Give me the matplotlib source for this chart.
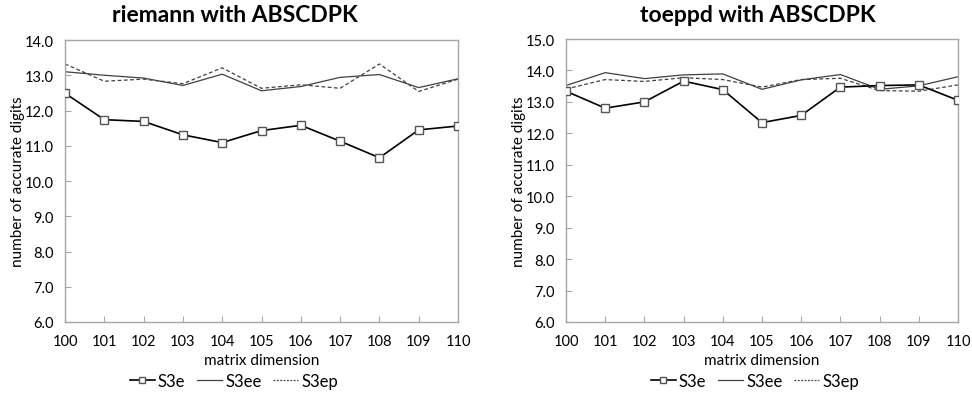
import matplotlib
matplotlib.use("Agg")
import matplotlib.pyplot as plt
from matplotlib.lines import Line2D

plt.rcParams['font.family'] = ['Lato', 'DejaVu Sans']

dims = [100, 101, 102, 103, 104, 105, 106, 107, 108, 109, 110]

riemann_s3e = [12.49, 11.74, 11.69, 11.31, 11.09, 11.43, 11.58, 11.13, 10.66, 11.45, 11.56]
riemann_s3ee = [13.10, 13.00, 12.92, 12.71, 13.03, 12.56, 12.68, 12.94, 13.02, 12.65, 12.90]
riemann_s3ep = [13.32, 12.83, 12.89, 12.76, 13.21, 12.63, 12.73, 12.63, 13.32, 12.54, 12.89]

toeppd_s3e = [13.34, 12.80, 13.00, 13.66, 13.39, 12.34, 12.57, 13.47, 13.52, 13.54, 13.05]
toeppd_s3ee = [13.52, 13.93, 13.74, 13.86, 13.89, 13.40, 13.70, 13.87, 13.40, 13.51, 13.80]
toeppd_s3ep = [13.41, 13.71, 13.65, 13.77, 13.71, 13.47, 13.71, 13.75, 13.36, 13.34, 13.54]

series_names = ["S3e", "S3ee", "S3ep"]
titles = ["riemann with ABSCDPK", "toeppd with ABSCDPK"]
yticks_left = [6.0, 7.0, 8.0, 9.0, 10.0, 11.0, 12.0, 13.0, 14.0]
yticks_right = [6.0, 7.0, 8.0, 9.0, 10.0, 11.0, 12.0, 13.0, 14.0, 15.0]

W, H = 972, 410
fig = plt.figure(figsize=(W / 100, H / 100), dpi=100)

def px(x0, y0, x1, y1):
    return [x0 / W, 1 - y1 / H, (x1 - x0) / W, (y1 - y0) / H]

axes_rects = [px(65, 41, 458, 323), px(566, 40, 958, 323)]
data = [(riemann_s3e, riemann_s3ee, riemann_s3ep), (toeppd_s3e, toeppd_s3ee, toeppd_s3ep)]
yticks_all = [yticks_left, yticks_right]
title_x = [235, 758]
legend_x = [234, 755]

spine_col = '#A6A6A6'
for i in range(2):
    ax = fig.add_axes(axes_rects[i])
    s3e, s3ee, s3ep = data[i]
    ax.plot(dims, s3ee, color='#404040', lw=0.9, zorder=2)
    ax.plot(dims, s3ep, color='#404040', lw=0.9, ls=(0, (3, 2)), zorder=2)
    ax.plot(dims, s3e, color='#000000', lw=1.2, marker='s', ms=6,
            mfc='white', mec='#555555', mew=1.0, zorder=3)
    yt = yticks_all[i]
    ax.set_xlim(dims[0], dims[-1])
    ax.set_ylim(yt[0], yt[-1])
    ax.set_xticks(dims)
    ax.set_yticks(yt)
    ax.set_yticklabels([f"{v:.1f}" for v in yt])
    ax.tick_params(direction='in', length=4, color=spine_col, labelsize=10.5,
                   labelcolor='#000000')
    ax.tick_params(axis='x', pad=9)
    ax.tick_params(axis='y', pad=8)
    for sp in ax.spines.values():
        sp.set_color(spine_col)
        sp.set_linewidth(1.0)
    ax.set_xlabel("matrix dimension", fontsize=11, labelpad=3)
    ax.set_ylabel("number of accurate digits", fontsize=11, labelpad=0)
    fig.text(title_x[i] / W, 1 - 16 / H, titles[i], ha='center', va='center',
             fontsize=16.5, fontweight='bold')
    handles = [
        Line2D([], [], color='#000000', lw=1.2, marker='s', ms=4.5, mfc='white', mec='#555555'),
        Line2D([], [], color='#404040', lw=0.9),
        Line2D([], [], color='#404040', lw=0.9, ls=(0, (1.5, 1.2))),
    ]
    fig.legend(handles, series_names, loc='center', bbox_to_anchor=(legend_x[i] / W, 1 - 382 / H),
               ncol=3, frameon=False, fontsize=12, handlelength=1.5, handletextpad=0.2,
               columnspacing=0.7)

fig.savefig("out.png", dpi=100)
